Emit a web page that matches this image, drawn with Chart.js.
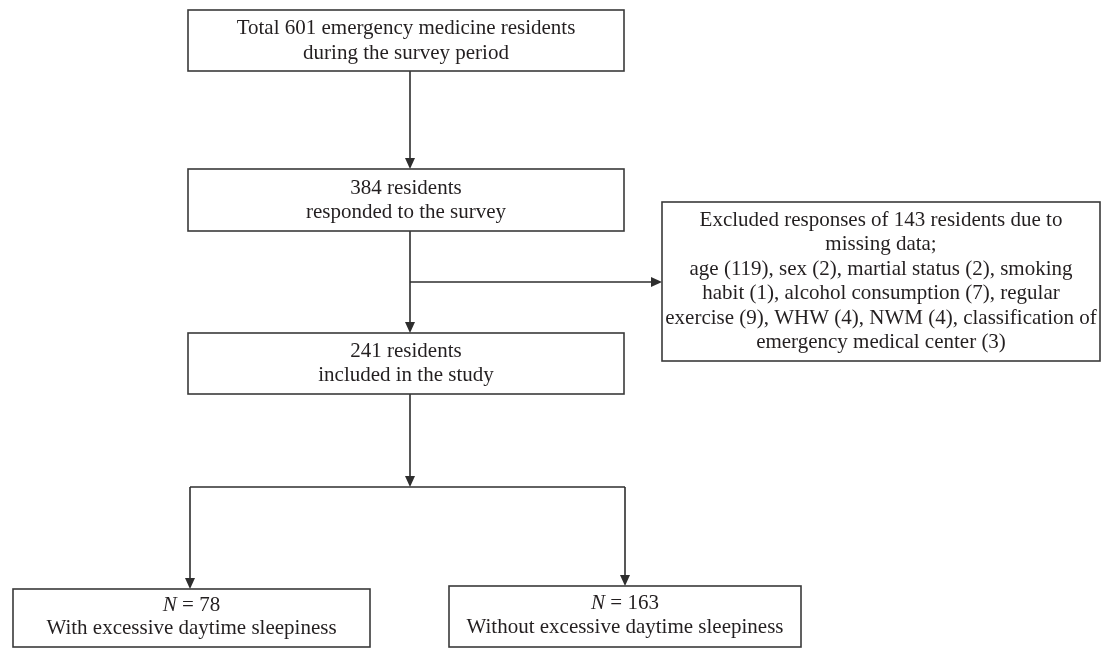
<!DOCTYPE html>
<html>
<head>
<meta charset="utf-8">
<script src="https://cdn.jsdelivr.net/npm/chart.js@4"></script>
<style>
  html, body { margin: 0; padding: 0; background: #ffffff; }
  #wrap { width: 1102px; height: 648px; }
</style>
</head>
<body>
<div id="wrap"><canvas id="c" width="1102" height="648"></canvas></div>
<script>
// ---- data ----
const stageNames = ["total", "responded", "included", "excluded", "withEDS", "withoutEDS"];
const stageCounts = [601, 384, 241, 143, 78, 163];
const exclusionReasons = ["age", "sex", "martial status", "smoking habit", "alcohol consumption", "regular exercise", "WHW", "NWM", "classification of emergency medical center"];
const exclusionCounts = [119, 2, 2, 1, 7, 9, 4, 4, 3];

// text lines of each box (built from the data above)
const boxLines = {
  total: ["Total " + stageCounts[0] + " emergency medicine residents", "during the survey period"],
  responded: [stageCounts[1] + " residents", "responded to the survey"],
  included: [stageCounts[2] + " residents", "included in the study"],
  excluded: [
    "Excluded responses of " + stageCounts[3] + " residents due to",
    "missing data;",
    exclusionReasons[0] + " (" + exclusionCounts[0] + "), " + exclusionReasons[1] + " (" + exclusionCounts[1] + "), " + exclusionReasons[2] + " (" + exclusionCounts[2] + "), smoking",
    "habit (" + exclusionCounts[3] + "), " + exclusionReasons[4] + " (" + exclusionCounts[4] + "), regular",
    "exercise (" + exclusionCounts[5] + "), " + exclusionReasons[6] + " (" + exclusionCounts[6] + "), " + exclusionReasons[7] + " (" + exclusionCounts[7] + "), classification of",
    "emergency medical center (" + exclusionCounts[8] + ")"
  ],
  withEDS: [{ italic: "N", rest: " = " + stageCounts[4] }, "With excessive daytime sleepiness"],
  withoutEDS: [{ italic: "N", rest: " = " + stageCounts[5] }, "Without excessive daytime sleepiness"]
};

// ---- layout (in axis units, 1 unit = 1 px) ----
const layout = {
  total:      { x0: 188, x1: 624, y0: 10,  y1: 71,  lines: [28, 53] },
  responded:  { x0: 188, x1: 624, y0: 169, y1: 231, lines: [188, 212] },
  included:   { x0: 188, x1: 624, y0: 333, y1: 394, lines: [351, 375] },
  excluded:   { x0: 662, x1: 1100, y0: 202, y1: 361, lines: [220, 244.5, 269, 293.5, 318, 342.5] },
  withEDS:    { x0: 13,  x1: 370, y0: 589, y1: 647, lines: [605, 628] },
  withoutEDS: { x0: 449, x1: 801, y0: 586, y1: 647, lines: [603, 627] }
};
const connectors = [
  { from: [410, 71],  to: [410, 169], arrow: true },
  { from: [410, 231], to: [410, 333], arrow: true },
  { from: [410, 282], to: [662, 282], arrow: true },
  { from: [410, 394], to: [410, 487], arrow: true },
  { from: [190, 487], to: [625, 487], arrow: false },
  { from: [190, 487], to: [190, 589], arrow: true },
  { from: [625, 487], to: [625, 586], arrow: true }
];

const FONT_FAMILY = '"Liberation Serif", "Times New Roman", serif';
const FONT_SIZE = 21;
const LINE_COLOR = '#2e2e2e';
const TEXT_COLOR = '#231f20';

const flowPlugin = {
  id: 'flow',
  afterDraw(chart) {
    const ctx = chart.ctx;
    const xs = chart.scales.x, ys = chart.scales.y;
    const X = v => xs.getPixelForValue(v);
    const Y = v => ys.getPixelForValue(v);
    ctx.save();
    ctx.strokeStyle = LINE_COLOR;
    ctx.fillStyle = LINE_COLOR;
    ctx.lineWidth = 1.6;

    // connectors
    connectors.forEach(c => {
      const x1 = X(c.from[0]), y1 = Y(c.from[1]);
      const x2 = X(c.to[0]), y2 = Y(c.to[1]);
      const ang = Math.atan2(y2 - y1, x2 - x1);
      const headLen = 11, headW = 5;
      const ex = c.arrow ? x2 - Math.cos(ang) * (headLen - 1) : x2;
      const ey = c.arrow ? y2 - Math.sin(ang) * (headLen - 1) : y2;
      ctx.beginPath();
      ctx.moveTo(x1, y1);
      ctx.lineTo(ex, ey);
      ctx.stroke();
      if (c.arrow) {
        const bx = x2 - Math.cos(ang) * headLen, by = y2 - Math.sin(ang) * headLen;
        const px = -Math.sin(ang) * headW, py = Math.cos(ang) * headW;
        ctx.beginPath();
        ctx.moveTo(x2, y2);
        ctx.lineTo(bx + px, by + py);
        ctx.lineTo(bx - px, by - py);
        ctx.closePath();
        ctx.fill();
      }
    });

    // boxes
    stageNames.forEach(name => {
      const b = layout[name];
      const x0 = X(b.x0), x1 = X(b.x1), y0 = Y(b.y0), y1 = Y(b.y1);
      ctx.fillStyle = '#ffffff';
      ctx.fillRect(x0, y0, x1 - x0, y1 - y0);
      ctx.strokeStyle = '#3a3a3a';
      ctx.lineWidth = 1.6;
      ctx.strokeRect(x0, y0, x1 - x0, y1 - y0);

      const cx = (x0 + x1) / 2;
      ctx.fillStyle = TEXT_COLOR;
      ctx.textBaseline = 'middle';
      boxLines[name].forEach((line, i) => {
        const ly = Y(b.lines[i]);
        if (typeof line === 'string') {
          ctx.font = FONT_SIZE + 'px ' + FONT_FAMILY;
          ctx.textAlign = 'center';
          ctx.fillText(line, cx, ly);
        } else {
          ctx.font = 'italic ' + FONT_SIZE + 'px ' + FONT_FAMILY;
          const w1 = ctx.measureText(line.italic).width;
          ctx.font = FONT_SIZE + 'px ' + FONT_FAMILY;
          const w2 = ctx.measureText(line.rest).width;
          const start = cx - (w1 + w2) / 2;
          ctx.textAlign = 'left';
          ctx.font = 'italic ' + FONT_SIZE + 'px ' + FONT_FAMILY;
          ctx.fillText(line.italic, start, ly);
          ctx.font = FONT_SIZE + 'px ' + FONT_FAMILY;
          ctx.fillText(line.rest, start + w1, ly);
        }
      });
    });
    ctx.restore();
  }
};

new Chart(document.getElementById('c'), {
  type: 'scatter',
  data: { datasets: [{ data: [], pointRadius: 0 }] },
  options: {
    responsive: false,
    animation: false,
    layout: { padding: 0 },
    plugins: { legend: { display: false }, tooltip: { enabled: false } },
    scales: {
      x: { type: 'linear', min: 0, max: 1102, display: false },
      y: { type: 'linear', min: 0, max: 648, reverse: true, display: false }
    }
  },
  plugins: [flowPlugin]
});
</script>
</body>
</html>
